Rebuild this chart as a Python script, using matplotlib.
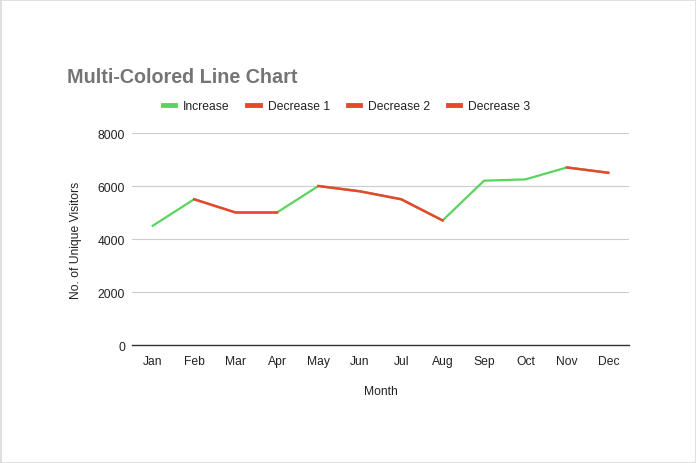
import numpy as np
import matplotlib.pyplot as plt

plt.rcParams['font.family'] = ['Liberation Sans', 'DejaVu Sans']

# Data
months = ['Jan', 'Feb', 'Mar', 'Apr', 'May', 'Jun', 'Jul', 'Aug', 'Sep', 'Oct', 'Nov', 'Dec']
visitors = [4500, 5500, 5000, 5000, 6000, 5800, 5500, 4700, 6200, 6250, 6700, 6500]
nan = np.nan
increase = visitors
decrease_1 = [nan, 5500, 5000, 5000, nan, nan, nan, nan, nan, nan, nan, nan]
decrease_2 = [nan, nan, nan, nan, 6000, 5800, 5500, 4700, nan, nan, nan, nan]
decrease_3 = [nan, nan, nan, nan, nan, nan, nan, nan, nan, nan, 6700, 6500]

green = '#5ad45c'
red = '#e8472f'
fs = 8.7

fig = plt.figure(figsize=(6.96, 4.64), dpi=100)
fig.patch.set_edgecolor('#e0e0e0')
fig.patch.set_linewidth(1)
ax = fig.add_axes([0.1897, 0.2543, 0.714, 0.4569])

x = np.arange(len(months))
ax.plot(x, increase, color=green, lw=1.6, label='Increase', zorder=3)
ax.plot(x, decrease_1, color=red, lw=1.8, label='Decrease 1', zorder=4)
ax.plot(x, decrease_2, color=red, lw=1.8, label='Decrease 2', zorder=4)
ax.plot(x, decrease_3, color=red, lw=1.8, label='Decrease 3', zorder=4)

ax.set_xlim(-0.5, 11.5)
ax.set_ylim(0, 8000)
ax.set_yticks([0, 2000, 4000, 6000, 8000])
ax.set_xticks(x)
ax.set_xticklabels(months)
ax.tick_params(axis='both', length=0, labelsize=fs, colors='#222222')
ax.tick_params(axis='x', pad=7)
ax.tick_params(axis='y', pad=5)
ax.grid(axis='y', color='#cccccc', lw=0.8)
ax.set_axisbelow(True)
for s in ['top', 'right', 'left']:
    ax.spines[s].set_visible(False)
ax.spines['bottom'].set_color('#333333')
ax.spines['bottom'].set_linewidth(1)
ax.spines['bottom'].set_zorder(5)

ax.set_xlabel('Month', fontsize=fs, color='#222222', labelpad=13)
ax.set_ylabel('No. of Unique Visitors', fontsize=fs, color='#222222', labelpad=11)

fig.text(0.096, 0.834, 'Multi-Colored Line Chart', fontsize=14.2, fontweight='bold',
         color='#757575', va='center', ha='left')

handles, labels = ax.get_legend_handles_labels()
leg = fig.legend(handles, labels, loc='center', bbox_to_anchor=(0.498, 0.769), ncol=4,
                 frameon=False, fontsize=fs, handlelength=1.0, handletextpad=0.7,
                 columnspacing=1.45)
for h in leg.legend_handles:
    h.set_linewidth(3.5)
for t in leg.get_texts():
    t.set_color('#222222')

fig.savefig('out.png', dpi=100)
